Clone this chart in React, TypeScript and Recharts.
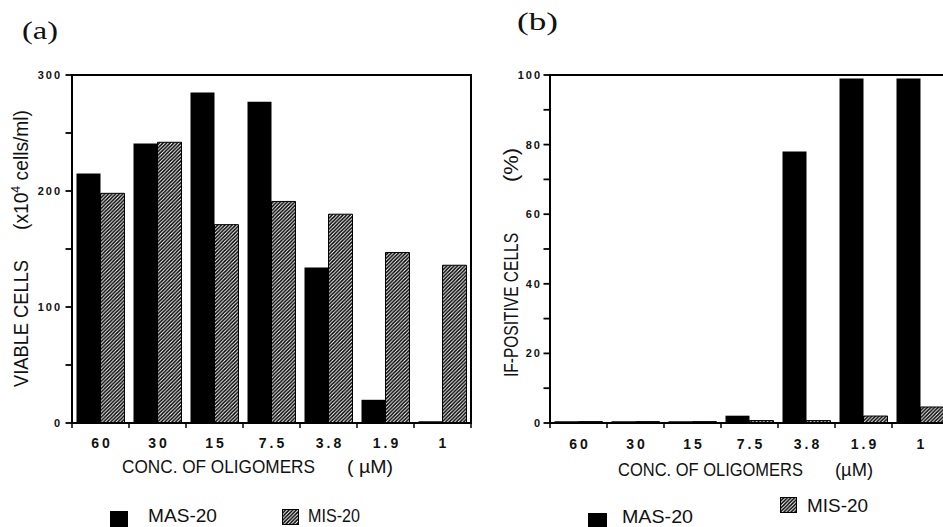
import { Bar, BarChart, ReferenceArea, XAxis, YAxis } from "recharts";

const CONCENTRATIONS = ["60", "30", "15", "7.5", "3.8", "1.9", "1"];
const VIABLE_MAS = [215, 241, 285, 277, 134, 20, 1.5];
const VIABLE_MIS = [198, 242, 171, 191, 180, 147, 136];
const IF_MAS = [0.5, 0.5, 0.5, 2.1, 78, 99, 99];
const IF_MIS = [0.4, 0.4, 0.4, 0.7, 0.7, 2, 4.6];
const VIABLE_TICKS = [0, 50, 100, 150, 200, 250, 300];
const IF_TICKS = [0, 10, 20, 30, 40, 50, 60, 70, 80, 90, 100];

const viableData = CONCENTRATIONS.map((conc, i) => ({ conc, mas: VIABLE_MAS[i], mis: VIABLE_MIS[i] }));
const ifData = CONCENTRATIONS.map((conc, i) => ({ conc, mas: IF_MAS[i], mis: IF_MIS[i] }));

const PLOT_W = 399;
const BAND = PLOT_W / CONCENTRATIONS.length;
const SANS = "'Liberation Sans', Arial, sans-serif";
const INK = "#111";

function ConcTick({ x, y, payload, index, dy }: any) {
  const last = index === CONCENTRATIONS.length - 1;
  return (
    <g>
      <line x1={x - BAND / 2} x2={x - BAND / 2} y1={y} y2={y + 5} stroke="#000" strokeWidth={1.5} />
      {last ? <line x1={x + BAND / 2} x2={x + BAND / 2} y1={y} y2={y + 5} stroke="#000" strokeWidth={1.5} /> : null}
      <text x={x + 1.5} y={y + dy} textAnchor="middle" fontFamily={SANS} fontSize={14} fontWeight="bold" letterSpacing={3} fill={INK}>
        {payload.value}
      </text>
    </g>
  );
}

function ValueTick({ x, y, payload, step, gap }: any) {
  const major = payload.value % step === 0;
  return (
    <g>
      <line x1={x - 6.5} x2={x} y1={y} y2={y} stroke="#000" strokeWidth={1.8} />
      {major ? (
        <text x={x - gap} y={y} dy="0.36em" textAnchor="end" fontFamily={SANS} fontSize={11} fontWeight="bold" letterSpacing={2} fill={INK}>
          {payload.value}
        </text>
      ) : null}
    </g>
  );
}

function Label({ x, y, w, size = 19, children }: any) {
  return (
    <text x={x} y={y} fontFamily={SANS} fontSize={size} fill={INK} textLength={w} lengthAdjust="spacingAndGlyphs">
      {children}
    </text>
  );
}

function VLabel({ x, y, w, children }: any) {
  return (
    <text transform={`translate(${x},${y}) rotate(-90)`} fontFamily={SANS} fontSize={20} fill={INK} textLength={w} lengthAdjust="spacingAndGlyphs">
      {children}
    </text>
  );
}

function Panel({ data, ticks, step, dy, gap }: any) {
  const top = ticks[ticks.length - 1];
  return (
    <BarChart width={480} height={527} data={data} margin={{ top: 75, right: 9, bottom: 74, left: 0 }} barCategoryGap={4.5} barGap={0}>
      <XAxis dataKey="conc" height={30} interval={0} tickSize={0} tickMargin={0} axisLine={{ stroke: "#000", strokeWidth: 2 }} tickLine={false} tick={(p: any) => <ConcTick {...p} dy={dy} />} />
      <YAxis width={72} domain={[0, top]} ticks={ticks} interval={0} tickSize={0} tickMargin={0} axisLine={{ stroke: "#000", strokeWidth: 2 }} tickLine={false} tick={(p: any) => <ValueTick {...p} step={step} gap={gap} />} />
      <Bar dataKey="mas" name="MAS-20" fill="#000" isAnimationActive={false} />
      <Bar dataKey="mis" name="MIS-20" fill="url(#hatch)" stroke="#000" strokeWidth={1} isAnimationActive={false} />
      <ReferenceArea x1={CONCENTRATIONS[0]} x2={CONCENTRATIONS[CONCENTRATIONS.length - 1]} y1={0} y2={top} fill="none" fillOpacity={0} stroke="#000" strokeWidth={2} ifOverflow="visible" />
    </BarChart>
  );
}

export default function App() {
  return (
    <div style={{ position: "fixed", left: 0, top: 0, width: 943, height: 527, overflow: "hidden", background: "#fff" }}>
      <div style={{ position: "absolute", left: 0, top: 0 }}>
        <Panel data={viableData} ticks={VIABLE_TICKS} step={100} dy={25} gap={10} />
      </div>
      <div style={{ position: "absolute", left: 478, top: 0 }}>
        <Panel data={ifData} ticks={IF_TICKS} step={20} dy={26} gap={8} />
      </div>
      <svg width={943} height={527} style={{ position: "absolute", left: 0, top: 0, pointerEvents: "none" }}>
        <defs>
          <pattern id="hatch" patternUnits="userSpaceOnUse" width={3.6} height={3.6}>
            <rect width={3.6} height={3.6} fill="#fff" />
            <path d="M-0.9,0.9 L0.9,-0.9 M0,3.6 L3.6,0 M2.7,4.5 L4.5,2.7" stroke="#000" strokeWidth={1.5} />
          </pattern>
        </defs>

        <text x={22} y={39} fontFamily="'Liberation Serif', serif" fontSize={25} fill={INK} textLength={36} lengthAdjust="spacingAndGlyphs">(a)</text>
        <text x={517} y={30} fontFamily="'Liberation Serif', serif" fontSize={25} fill={INK} textLength={41} lengthAdjust="spacingAndGlyphs">(b)</text>

        <VLabel x={28} y={387} w={127}>VIABLE CELLS</VLabel>
        <VLabel x={28} y={230} w={120}>
          (x10<tspan dy={-8} fontSize={13}>4</tspan><tspan dy={8}> cells/ml)</tspan>
        </VLabel>
        <VLabel x={518} y={377} w={144}>IF-POSITIVE CELLS</VLabel>
        <VLabel x={518} y={182} w={34}>(%)</VLabel>

        <Label x={122} y={473} w={193}>CONC. OF OLIGOMERS</Label>
        <Label x={347} y={473} w={46}>( µM)</Label>
        <Label x={618} y={476} w={185}>CONC. OF OLIGOMERS</Label>
        <Label x={835} y={476} w={38}>(µM)</Label>

        <rect x={110} y={511} width={18} height={16} fill="#000" />
        <Label x={148} y={522} w={69} size={18}>MAS-20</Label>
        <rect x={282.5} y={509.5} width={16} height={15} fill="url(#hatch)" stroke="#000" strokeWidth={1} />
        <Label x={308} y={522} w={52} size={18}>MIS-20</Label>

        <rect x={588} y={513} width={19} height={14} fill="#000" />
        <Label x={622} y={523} w={71} size={18}>MAS-20</Label>
        <rect x={780.5} y={497.5} width={16} height={15} fill="url(#hatch)" stroke="#000" strokeWidth={1} />
        <Label x={807} y={512} w={61}>MIS-20</Label>
      </svg>
    </div>
  );
}
